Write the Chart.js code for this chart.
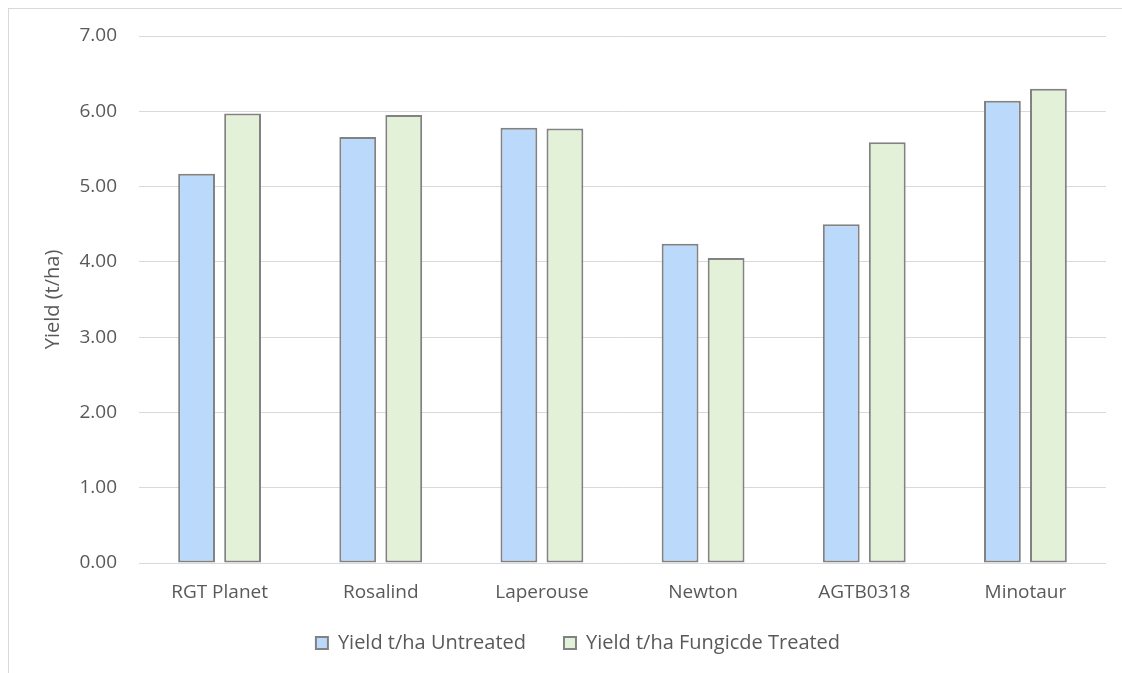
<!DOCTYPE html>
<html lang="en">
    <head>
        <meta charset="UTF-8" />
        <title>Yield Untreated vs Fungicide Treated</title>
        <script src="https://cdn.jsdelivr.net/npm/chart.js"></script>
        <style>
            html, body {
                margin: 0;
                padding: 0;
                background: #ffffff;
                overflow: hidden;
            }
            .chart-container {
                position: relative;
                width: 1122px;
                height: 673px;
            }
            .chart-frame {
                position: absolute;
                left: 8px;
                top: 8px;
                width: 1130px;
                height: 690px;
                border: 1px solid #d9d9d9;
                pointer-events: none;
            }
        </style>
    </head>
    <body>
        <div class="chart-container">
            <div class="chart-frame"></div>
            <canvas id="yieldChart"></canvas>
        </div>

        <script>
            const varieties = ["RGT Planet", "Rosalind", "Laperouse", "Newton", "AGTB0318", "Minotaur"];
            const untreated = [5.17, 5.66, 5.78, 4.24, 4.5, 6.14];
            const treated = [5.97, 5.95, 5.77, 4.05, 5.59, 6.3];
            const seriesNames = ["Yield t/ha Untreated", "Yield t/ha Fungicde Treated"];
            const yMin = 0;
            const yMax = 7;
            const yStep = 1;

            const textColor = "#595959";
            const fontFamily = "'Open Sans', sans-serif";

            // legend: thin box at the bottom, then nudged to where the original has it
            const legendPlace = {
                id: "legendPlace",
                beforeInit(chart) {
                    const origFit = chart.legend.fit;
                    chart.legend.fit = function () {
                        origFit.bind(chart.legend)();
                        this.height = 48;
                    };
                },
                afterLayout(chart) {
                    const lg = chart.legend;
                    lg.top = 595;
                    lg.height = 78;
                    lg.bottom = lg.top + lg.height;
                    lg.left += 25;
                    lg.right += 25;
                },
            };

            const ctx = document.getElementById("yieldChart").getContext("2d");
            new Chart(ctx, {
                type: "bar",
                data: {
                    labels: varieties,
                    datasets: [
                        {
                            label: seriesNames[0],
                            data: untreated,
                            backgroundColor: "#bad9fb",
                            borderColor: "#828282",
                            borderWidth: 2,
                            borderSkipped: false,
                        },
                        {
                            label: seriesNames[1],
                            data: treated,
                            backgroundColor: "#e3f1d9",
                            borderColor: "#828282",
                            borderWidth: 2,
                            borderSkipped: false,
                        },
                    ],
                },
                options: {
                    responsive: true,
                    maintainAspectRatio: false,
                    animation: false,
                    categoryPercentage: 0.571,
                    barPercentage: 0.8,
                    layout: {
                        padding: { left: 0, right: 16, top: 36, bottom: 0 },
                    },
                    plugins: {
                        tooltip: { enabled: false },
                        legend: {
                            position: "bottom",
                            labels: {
                                boxWidth: 12,
                                boxHeight: 12,
                                padding: 38,
                                color: textColor,
                                font: { family: fontFamily, size: 20 },
                            },
                        },
                    },
                    scales: {
                        x: {
                            grid: { display: false },
                            border: { display: false },
                            ticks: {
                                color: textColor,
                                padding: 10,
                                maxRotation: 0,
                                font: { family: fontFamily, size: 19 },
                            },
                            afterFit(scale) {
                                scale.height = 62;
                            },
                        },
                        y: {
                            min: yMin,
                            max: yMax,
                            border: { display: false },
                            grid: {
                                color: "#d9d9d9",
                                lineWidth: 1,
                                drawTicks: false,
                            },
                            ticks: {
                                stepSize: yStep,
                                color: textColor,
                                padding: 22,
                                font: { family: fontFamily, size: 19 },
                                callback: (v) => Number(v).toFixed(2),
                            },
                            title: {
                                display: true,
                                text: "Yield (t/ha)",
                                color: textColor,
                                padding: { top: 41, bottom: 0 },
                                font: { family: fontFamily, size: 20 },
                            },
                            afterFit(scale) {
                                scale.width = 139;
                            },
                        },
                    },
                },
                plugins: [legendPlace],
            });
        </script>
    </body>
</html>
